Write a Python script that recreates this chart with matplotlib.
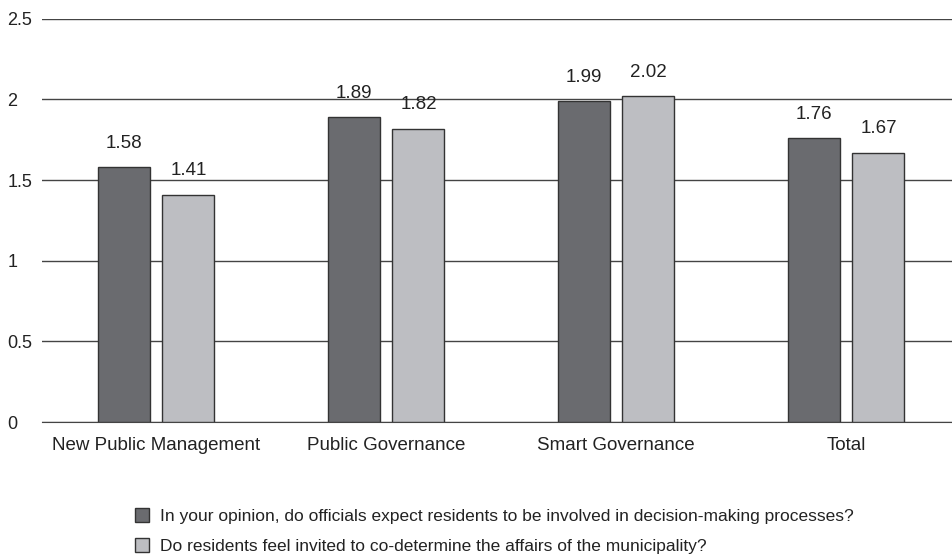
import matplotlib.pyplot as plt
import numpy as np

categories = ["New Public Management", "Public Governance", "Smart Governance", "Total"]
officials = [1.58, 1.89, 1.99, 1.76]
residents = [1.41, 1.82, 2.02, 1.67]
series_names = [
    "In your opinion, do officials expect residents to be involved in decision-making processes?",
    "Do residents feel invited to co-determine the affairs of the municipality?",
]

plt.rcParams['font.family'] = ['Liberation Sans', 'DejaVu Sans']

fig = plt.figure(figsize=(9.53, 5.54), dpi=100)
ax = fig.add_axes([0.044, 0.238, 0.956, 0.728])

x = np.arange(len(categories))
w = 0.226
off = 0.141
b1 = ax.bar(x - off, officials, w, color="#6a6b6f", edgecolor="#333333", linewidth=1, zorder=3, label=series_names[0])
b2 = ax.bar(x + off, residents, w, color="#bdbec2", edgecolor="#333333", linewidth=1, zorder=3, label=series_names[1])

for bars, vals in [(b1, officials), (b2, residents)]:
    for bar, v in zip(bars, vals):
        ax.annotate(f"{v:.2f}", (bar.get_x() + bar.get_width() / 2, v),
                    xytext=(0, 11), textcoords="offset points",
                    ha="center", va="bottom", fontsize=13.5, color="#222222")

ax.set_xlim(-0.496, 3.465)
ax.set_ylim(0, 2.5)
ax.set_yticks([0, 0.5, 1, 1.5, 2, 2.5])
ax.set_yticklabels(["0", "0.5", "1", "1.5", "2", "2.5"])
ax.yaxis.grid(True, color="#444444", linewidth=1, zorder=0)
ax.set_xticks(x)
ax.set_xticklabels(categories)
ax.tick_params(axis="x", length=0, pad=11, labelsize=13.5, labelcolor="#222222")
ax.tick_params(axis="y", length=0, pad=25, labelsize=13, labelcolor="#222222")
for lbl in ax.get_yticklabels():
    lbl.set_horizontalalignment("left")
for s in ["top", "right", "left"]:
    ax.spines[s].set_visible(False)
ax.spines["bottom"].set_color("#444444")

fig.legend(handles=[b1, b2], loc="upper left", bbox_to_anchor=(0.134, 0.096), frameon=False,
           fontsize=12.5, handlelength=0.85, handleheight=0.85, handletextpad=0.6,
           labelspacing=0.85, borderaxespad=0, labelcolor="#222222")

fig.savefig("out.png", dpi=100)
